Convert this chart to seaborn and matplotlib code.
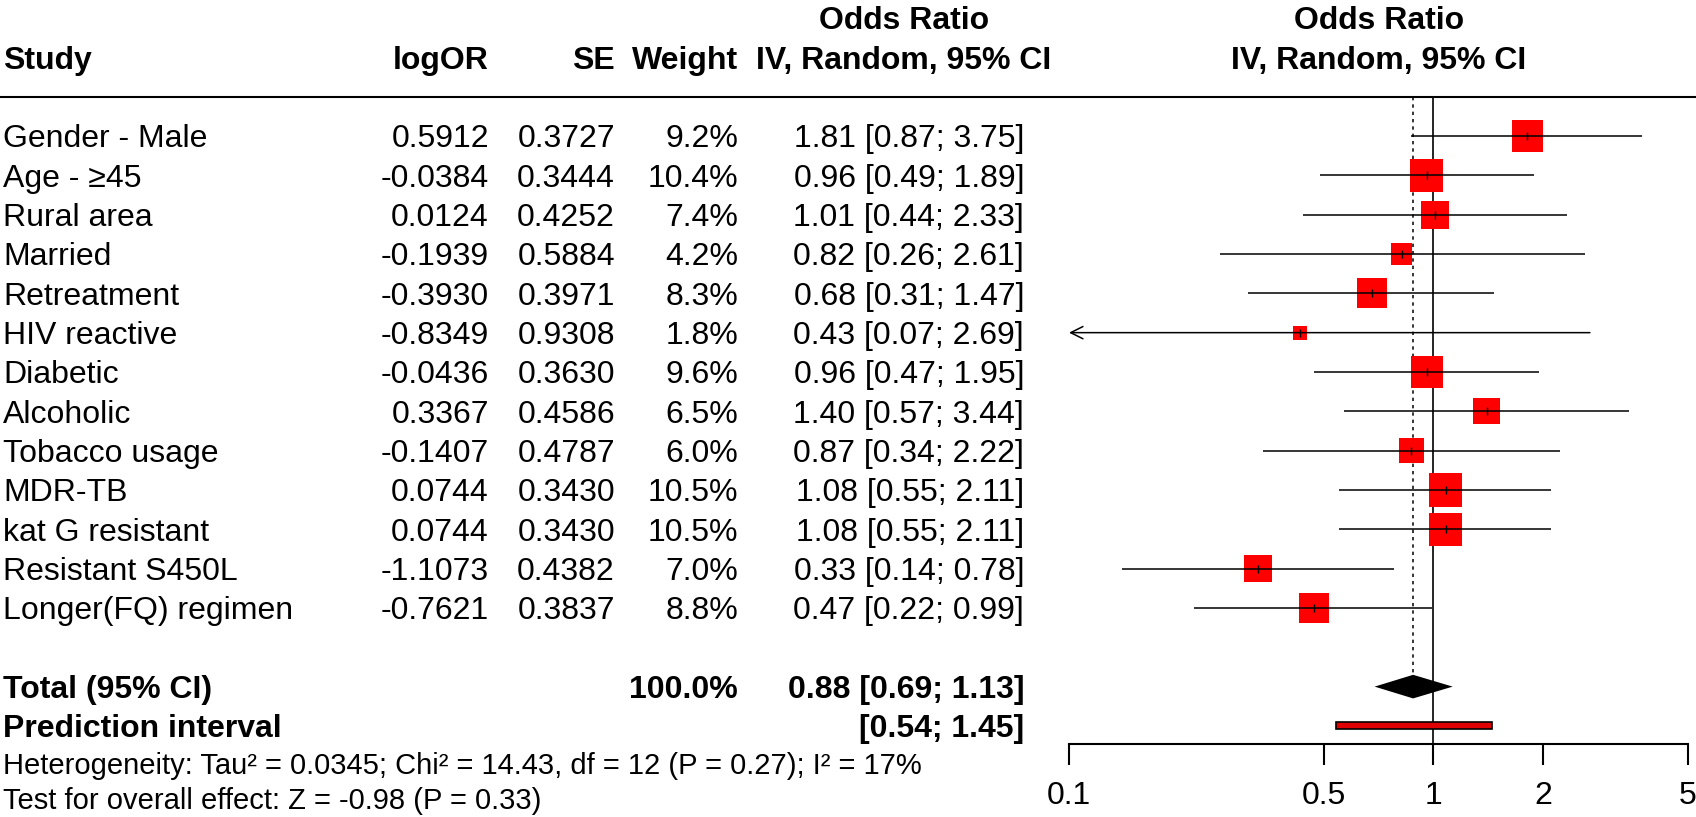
import numpy as np
import pandas as pd
import matplotlib
matplotlib.use("Agg")
import matplotlib.pyplot as plt
from matplotlib.ticker import NullLocator, FixedLocator, FixedFormatter
import seaborn as sns

# ---------------- data ----------------
studies = ["Gender - Male", "Age - \u226545", "Rural area", "Married", "Retreatment",
           "HIV reactive", "Diabetic", "Alcoholic", "Tobacco usage", "MDR-TB",
           "kat G resistant", "Resistant S450L", "Longer(FQ) regimen"]
log_or = [0.5912, -0.0384, 0.0124, -0.1939, -0.3930, -0.8349, -0.0436, 0.3367,
          -0.1407, 0.0744, 0.0744, -1.1073, -0.7621]
se = [0.3727, 0.3444, 0.4252, 0.5884, 0.3971, 0.9308, 0.3630, 0.4586,
      0.4787, 0.3430, 0.3430, 0.4382, 0.3837]
weight = [9.2, 10.4, 7.4, 4.2, 8.3, 1.8, 9.6, 6.5, 6.0, 10.5, 10.5, 7.0, 8.8]
odds_ratio = [1.81, 0.96, 1.01, 0.82, 0.68, 0.43, 0.96, 1.40, 0.87, 1.08, 1.08, 0.33, 0.47]
ci_lower = [0.87, 0.49, 0.44, 0.26, 0.31, 0.07, 0.47, 0.57, 0.34, 0.55, 0.55, 0.14, 0.22]
ci_upper = [3.75, 1.89, 2.33, 2.61, 1.47, 2.69, 1.95, 3.44, 2.22, 2.11, 2.11, 0.78, 0.99]

total_or = 0.88
total_lower = 0.69
total_upper = 1.13
total_weight = 100.0
pred_lower = 0.54
pred_upper = 1.45
het_text = "Heterogeneity: Tau\u00b2 = 0.0345; Chi\u00b2 = 14.43, df = 12 (P = 0.27); I\u00b2 = 17%"
overall_text = "Test for overall effect: Z = -0.98 (P = 0.33)"
x_ticks = [0.1, 0.5, 1, 2, 5]
x_tick_labels = ["0.1", "0.5", "1", "2", "5"]

# ---------------- style ----------------
sns.set_theme(style="white")
plt.rcParams["font.family"] = ["Liberation Sans", "DejaVu Sans"]

W, H = 1696, 817
ROW0, ROWH = 136.0, 39.33
FS, FS_FOOT = 23, 21


def ypx(r):
    return ROW0 + ROWH * r


fig = plt.figure(figsize=(W / 100, H / 100), dpi=100)
fig.patch.set_facecolor("white")

# text layer (pixel coordinates)
tax = fig.add_axes([0, 0, 1, 1])
tax.set_xlim(0, W)
tax.set_ylim(H, 0)
tax.axis("off")


def put(x, row, s, ha="left", size=FS, bold=False):
    fs_px = size / 72 * 100
    tax.text(x, ypx(row) + 0.358 * fs_px, s, ha=ha, va="baseline", fontsize=size,
             fontweight="bold" if bold else "normal", color="black")


X_STUDY, X_LOG, X_SE, X_W, X_CI, X_HDR, X_PLOT_HDR = 3, 489, 615, 738, 1024, 904, 1379

# headers
put(X_HDR, -3, "Odds Ratio", ha="center", bold=True)
put(X_PLOT_HDR, -3, "Odds Ratio", ha="center", bold=True)
put(X_STUDY, -2, "Study", bold=True)
put(X_LOG, -2, "logOR", ha="right", bold=True)
put(X_SE, -2, "SE", ha="right", bold=True)
put(X_W, -2, "Weight", ha="right", bold=True)
put(X_HDR, -2, "IV, Random, 95% CI", ha="center", bold=True)
put(X_PLOT_HDR, -2, "IV, Random, 95% CI", ha="center", bold=True)
tax.plot([0, W], [ypx(-1), ypx(-1)], color="black", lw=1.5, solid_capstyle="butt")

# study rows
for i, name in enumerate(studies):
    put(X_STUDY, i, name)
    put(X_LOG, i, f"{log_or[i]:.4f}", ha="right")
    put(X_SE, i, f"{se[i]:.4f}", ha="right")
    put(X_W, i, f"{weight[i]:.1f}%", ha="right")
    put(X_CI, i, f"{odds_ratio[i]:.2f} [{ci_lower[i]:.2f}; {ci_upper[i]:.2f}]", ha="right")

n = len(studies)
row_total = n + 1
row_pred = n + 2
put(X_STUDY, row_total, "Total (95% CI)", bold=True)
put(X_W, row_total, f"{total_weight:.1f}%", ha="right", bold=True)
put(X_CI, row_total, f"{total_or:.2f} [{total_lower:.2f}; {total_upper:.2f}]", ha="right", bold=True)
put(X_STUDY, row_pred, "Prediction interval", bold=True)
put(X_CI, row_pred, f"[{pred_lower:.2f}; {pred_upper:.2f}]", ha="right", bold=True)
put(X_STUDY, n + 2.95, het_text, size=FS_FOOT)
put(X_STUDY, n + 3.85, overall_text, size=FS_FOOT)

# ---------------- forest panel ----------------
AX_L, AX_R = 1069, 1688
AX_TOP, AX_BOT = ypx(-1), 744
fax = fig.add_axes([AX_L / W, 1 - AX_BOT / H, (AX_R - AX_L) / W, (AX_BOT - AX_TOP) / H])
fax.set_xscale("log")
XMIN, XMAX = x_ticks[0], x_ticks[-1]
fax.set_xlim(XMIN, XMAX)
fax.set_ylim((AX_BOT - ROW0) / ROWH, -1)
fax.patch.set_alpha(0)
for sp in ["top", "right", "left"]:
    fax.spines[sp].set_visible(False)
fax.spines["bottom"].set_linewidth(1.5)
fax.spines["bottom"].set_color("black")
fax.xaxis.set_major_locator(FixedLocator(x_ticks))
fax.xaxis.set_major_formatter(FixedFormatter(x_tick_labels))
fax.xaxis.set_minor_locator(NullLocator())
fax.set_yticks([])
fax.tick_params(axis="x", which="major", direction="out", length=15, width=1.5,
                pad=12, labelsize=FS, colors="black", bottom=True)
fax.set_xlabel("")
fax.set_ylabel("")

df = pd.DataFrame({"study": studies, "OR": odds_ratio, "lower": ci_lower,
                   "upper": ci_upper, "weight": weight, "row": np.arange(n)})

# reference lines
fax.axvline(1, color="black", lw=1.2, zorder=1)
diamond_h = 0.3
fax.vlines(total_or, -1, row_total - diamond_h, color="black", lw=1.1,
           linestyles=(0, (2.2, 2.6)), zorder=1)

# squares (area proportional to weight)
sns.scatterplot(data=df, x="OR", y="row", size="weight", sizes=(0, 5500), size_norm=(0, 100),
                marker="s", color="red", linewidth=0, legend=False, ax=fax, zorder=3)

# confidence intervals
for _, r in df.iterrows():
    if r["lower"] < XMIN:
        fax.annotate("", xy=(XMIN, r["row"]), xytext=(r["upper"], r["row"]),
                     arrowprops=dict(arrowstyle="->", lw=1.1, color="black",
                                     mutation_scale=22, shrinkA=0, shrinkB=0),
                     zorder=4, annotation_clip=False)
    else:
        fax.hlines(r["row"], r["lower"], min(r["upper"], XMAX), color="black", lw=1.1, zorder=4)
fax.scatter(df["OR"], df["row"], marker="|", s=40, color="black", linewidths=1.0, zorder=5)

# pooled diamond
fax.fill([total_lower, total_or, total_upper, total_or],
         [row_total, row_total - diamond_h, row_total, row_total + diamond_h],
         color="black", zorder=4, lw=0)

# prediction interval
ph = 0.09
fax.fill([pred_lower, pred_upper, pred_upper, pred_lower],
         [row_pred - ph, row_pred - ph, row_pred + ph, row_pred + ph],
         facecolor="#e00000", edgecolor="black", lw=1.2, zorder=4)

fig.savefig("out.png", dpi=100, facecolor="white")
